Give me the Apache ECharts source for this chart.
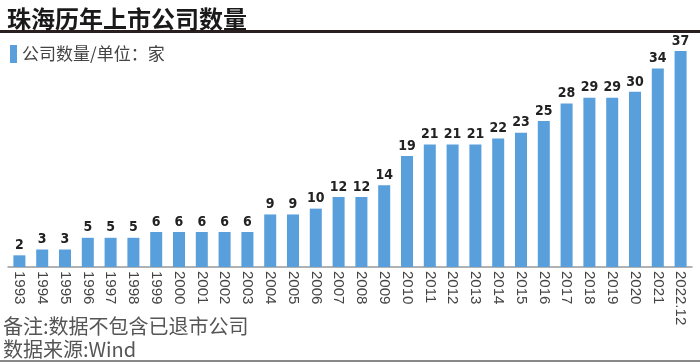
<!DOCTYPE html>
<html><head><meta charset="utf-8">
<script src="https://cdn.jsdelivr.net/npm/echarts@6/dist/echarts.min.js"></script>
<style>html,body{margin:0;padding:0;background:#fff}#c{width:700px;height:363px}</style>
</head><body><div id="c"></div>
<script>
const categories = ['1993','1994','1995','1996','1997','1998','1999','2000','2001','2002','2003','2004','2005','2006','2007','2008','2009','2010','2011','2012','2013','2014','2015','2016','2017','2018','2019','2020','2021','2022.12'];
const values = [2,3,3,5,5,5,6,6,6,6,6,9,9,10,12,12,14,19,21,21,21,22,23,25,28,29,29,30,34,37];
const seriesName = '公司数量/单位：家';
const titleText = '珠海历年上市公司数量';
const note1 = '备注:数据不包含已退市公司';
const note2 = '数据来源:Wind';

const chart = echarts.init(document.getElementById('c'));
const cjk = '"Noto Sans CJK SC", sans-serif';
chart.setOption({
  animation: false,
  backgroundColor: '#fff',
  title: { text: titleText, left: 2, top: 2, textStyle: { fontFamily: cjk, fontSize: 24, fontWeight: 'bold', color: '#1a1a1a' } },
  legend: { left: 5, top: 40, itemWidth: 7, itemHeight: 18, itemGap: 8, icon: 'rect',
    textStyle: { fontFamily: cjk, fontSize: 17, color: '#444' }, data: [seriesName] },
  grid: { left: 8, right: 8, top: 51, bottom: 96, containLabel: false },
  xAxis: { type: 'category', data: categories,
    axisLine: { lineStyle: { color: '#999', width: 1.5 } }, axisTick: { show: false },
    axisLabel: { rotate: -90, interval: 0, margin: 4, fontSize: 15, color: '#444', fontFamily: 'Liberation Sans, Arial, sans-serif' } },
  yAxis: { type: 'value', min: 0, max: 37, show: false, splitLine: { show: false } },
  series: [{ name: seriesName, type: 'bar', data: values, barWidth: 12,
    itemStyle: { color: '#589fdc' },
    label: { show: true, position: 'top', distance: 3, fontSize: 14, fontWeight: 'bold', color: '#222', fontFamily: '"Liberation Sans Narrow", "DejaVu Sans Condensed", sans-serif' } }],
  graphic: [
    { type: 'rect', shape: { x: 0, y: 30, width: 700, height: 3 }, style: { fill: '#2a2020' } },
    { type: 'text', left: 3, top: 316, style: { text: note1, font: '20px "Noto Sans CJK SC"', fill: '#555' } },
    { type: 'text', left: 3, top: 339, style: { text: note2, font: '20px "Noto Sans CJK SC"', fill: '#555' } },
    { type: 'rect', shape: { x: 0, y: 360, width: 700, height: 2 }, style: { fill: '#888' } }
  ]
});
</script></body></html>
